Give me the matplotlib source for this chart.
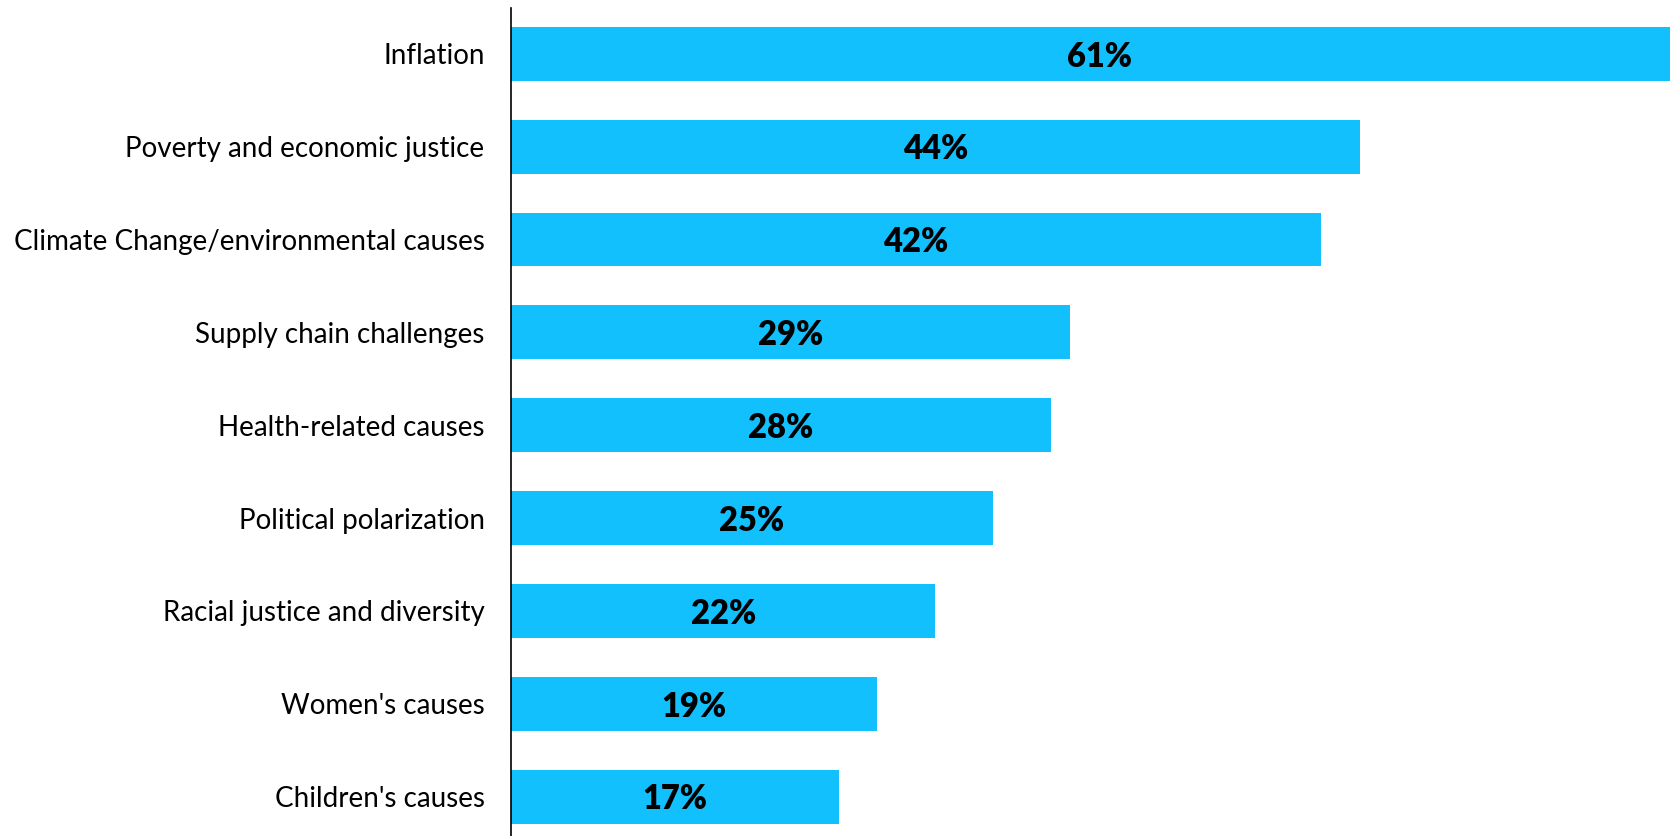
import matplotlib
matplotlib.use("Agg")
import matplotlib.pyplot as plt

categories = [
    "Inflation",
    "Poverty and economic justice",
    "Climate Change/environmental causes",
    "Supply chain challenges",
    "Health-related causes",
    "Political polarization",
    "Racial justice and diversity",
    "Women's causes",
    "Children's causes",
]
values = [61, 44, 42, 29, 28, 25, 22, 19, 17]
value_labels = [f"{v}%" for v in values]

bar_color = "#12C0FD"

plt.rcParams["font.family"] = ["Lato", "DejaVu Sans"]

fig = plt.figure(figsize=(16.7, 8.36), dpi=100)
ax = fig.add_axes([511 / 1670, 0.0, 1 - 511 / 1670, 1 - 8.5 / 836])

y = list(range(len(categories)))
ax.barh(y, values, height=0.58, color=bar_color, zorder=2)

for yi, v, lab in zip(y, values, value_labels):
    ax.text(v / 2, yi + 0.03, lab, ha="center", va="center", fontsize=23.5,
            fontweight="heavy", color="black", zorder=3)

ax.set_xlim(0, 60.1)
ax.set_ylim(len(categories) - 1 + 0.424, -0.488)
ax.set_yticks(y)
ax.set_yticklabels(categories, fontsize=20)
ax.tick_params(axis="y", length=0, pad=19)
ax.set_xticks([])
for side in ["top", "right", "bottom"]:
    ax.spines[side].set_visible(False)
ax.spines["left"].set_linewidth(1.2)

fig.savefig("out.png", dpi=100)
